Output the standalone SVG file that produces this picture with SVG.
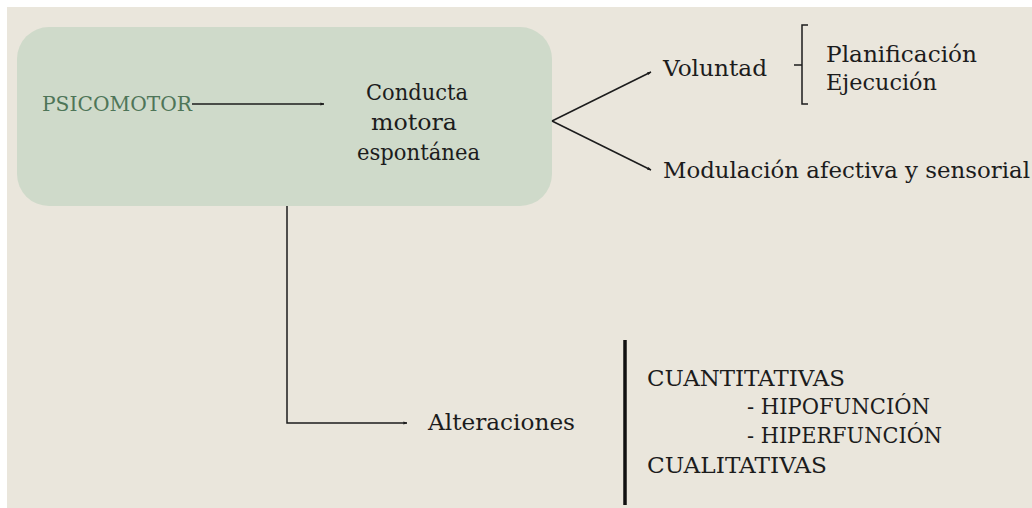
<svg xmlns="http://www.w3.org/2000/svg" width="1032" height="508" viewBox="0 0 1032 508">
<defs>
<style>
.t{font-family:"DejaVu Serif","Liberation Serif",serif;font-size:23px;fill:#1c1c1c}
.m{font-size:22px}
.g{fill:#4e7558;font-size:20px}
.c{stroke:#1c1c1c;stroke-width:1.5;fill:none}
</style>
<marker id="ah" viewBox="0 0 10 10" refX="9" refY="5" markerWidth="4" markerHeight="4" orient="auto" markerUnits="userSpaceOnUse">
<path d="M0,1 L10,5 L0,9 z" fill="#1c1c1c"/>
</marker>
</defs>
<rect width="1032" height="508" fill="#ffffff"/>
<rect x="7" y="7" width="1025" height="501" fill="#eae6dc"/>
<g id="box">
<rect x="17" y="27" width="535" height="179" rx="32" fill="#cfdaca"/>
</g>
<g id="psicomotor"><text class="t g" x="42" y="111" textLength="150" lengthAdjust="spacingAndGlyphs">PSICOMOTOR</text></g>
<g id="conducta">
<text class="t m" x="366" y="100" textLength="102" lengthAdjust="spacingAndGlyphs">Conducta</text>
<text class="t m" x="371" y="130" textLength="86" lengthAdjust="spacingAndGlyphs">motora</text>
<text class="t m" x="357" y="160" textLength="123" lengthAdjust="spacingAndGlyphs">espontánea</text>
</g>
<g id="voluntad"><text class="t" x="663" y="76" textLength="104" lengthAdjust="spacingAndGlyphs">Voluntad</text></g>
<g id="planificacion">
<text class="t" x="826" y="62" textLength="151" lengthAdjust="spacingAndGlyphs">Planificación</text>
<text class="t" x="826" y="90" textLength="111" lengthAdjust="spacingAndGlyphs">Ejecución</text>
</g>
<g id="modulacion"><text class="t" x="663" y="178" textLength="367" lengthAdjust="spacingAndGlyphs">Modulación afectiva y sensorial</text></g>
<g id="alteraciones"><text class="t" x="428" y="430" textLength="147" lengthAdjust="spacingAndGlyphs">Alteraciones</text></g>
<g id="tipos">
<text class="t" x="647" y="386" textLength="198" lengthAdjust="spacingAndGlyphs">CUANTITATIVAS</text>
<text class="t" x="747" y="414" textLength="183" lengthAdjust="spacingAndGlyphs">- HIPOFUNCIÓN</text>
<text class="t" x="747" y="443" textLength="195" lengthAdjust="spacingAndGlyphs">- HIPERFUNCIÓN</text>
<text class="t" x="647" y="473" textLength="180" lengthAdjust="spacingAndGlyphs">CUALITATIVAS</text>
</g>
<g id="connectors">
<line class="c" x1="192" y1="104" x2="324" y2="104" marker-end="url(#ah)"/>
<line class="c" x1="552" y1="121" x2="651" y2="72" marker-end="url(#ah)"/>
<line class="c" x1="552" y1="121" x2="651" y2="170" marker-end="url(#ah)"/>
<polyline class="c" points="287,206 287,423 407,423" marker-end="url(#ah)"/>
<path class="c" d="M808,25 H802 V104 H808 M794,65 H802" stroke-width="2"/>
<line x1="625" y1="340" x2="625" y2="505" stroke="#111" stroke-width="3.5"/>
</g>
</svg>
